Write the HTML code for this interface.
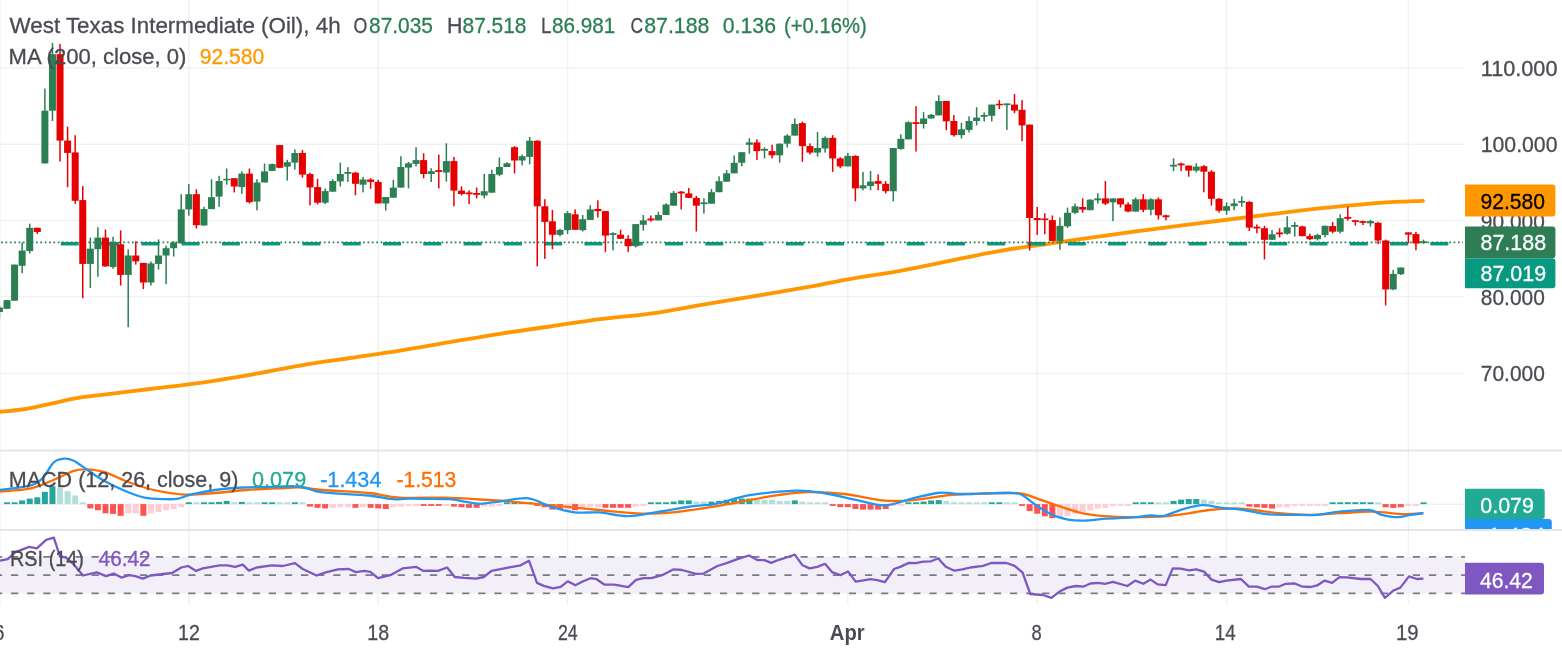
<!DOCTYPE html><html><head><meta charset="utf-8"><style>html,body{margin:0;padding:0;background:#fff;}body{width:1562px;height:652px;overflow:hidden;}svg{display:block;will-change:transform;}</style></head><body>
<svg width="1562" height="652" viewBox="0 0 1562 652" font-family='"Liberation Sans", sans-serif'>
<rect width="1562" height="652" fill="#fff"/>
<rect x="-0.77" y="0" width="1.4" height="605" fill="#eff2f1"/>
<rect x="188.1" y="0" width="1.4" height="605" fill="#eff2f1"/>
<rect x="377.48" y="0" width="1.4" height="605" fill="#eff2f1"/>
<rect x="566.85" y="0" width="1.4" height="605" fill="#eff2f1"/>
<rect x="847.12" y="0" width="1.4" height="605" fill="#eff2f1"/>
<rect x="1036.5" y="0" width="1.4" height="605" fill="#eff2f1"/>
<rect x="1225.88" y="0" width="1.4" height="605" fill="#eff2f1"/>
<rect x="1407.67" y="0" width="1.4" height="605" fill="#eff2f1"/>
<rect x="0" y="67.2" width="1465" height="1.4" fill="#eff2f1"/>
<rect x="0" y="143.6" width="1465" height="1.4" fill="#eff2f1"/>
<rect x="0" y="219.7" width="1465" height="1.4" fill="#eff2f1"/>
<rect x="0" y="295.9" width="1465" height="1.4" fill="#eff2f1"/>
<rect x="0" y="372.8" width="1465" height="1.4" fill="#eff2f1"/>
<rect x="0" y="449.66" width="1562" height="1.8" fill="#e2e3ea"/>
<rect x="0" y="529.0" width="1562" height="1.8" fill="#e2e3ea"/>
<rect x="0" y="556.8" width="1465" height="36.8" fill="#f2eff9"/>
<line x1="-5.113" y1="556.8" x2="1465" y2="556.8" stroke="#787b86" stroke-width="1.8" stroke-dasharray="7.2 8.913"/>
<line x1="-5.113" y1="575.1" x2="1465" y2="575.1" stroke="#787b86" stroke-width="1.8" stroke-dasharray="7.2 8.913"/>
<line x1="-5.113" y1="593.4" x2="1465" y2="593.4" stroke="#787b86" stroke-width="1.8" stroke-dasharray="7.2 8.913"/>
<path fill="none" stroke="#ff9800" stroke-width="3.8" stroke-linecap="round" d="M0.00,411.76 C4.27,411.30 17.07,410.36 25.60,409.00 C34.13,407.64 42.67,405.42 51.20,403.60 C59.73,401.78 68.67,399.50 76.80,398.10 C84.93,396.70 87.80,396.72 100.00,395.20 C112.20,393.68 133.33,391.06 150.00,389.00 C166.67,386.94 183.35,385.21 200.00,382.85 C216.65,380.49 233.23,377.73 249.90,374.85 C266.57,371.97 283.32,368.37 300.00,365.56 C316.68,362.75 333.33,360.49 350.00,358.00 C366.67,355.51 383.35,353.25 400.00,350.60 C416.65,347.95 433.23,344.91 449.90,342.10 C466.57,339.29 483.32,336.36 500.00,333.76 C516.68,331.16 533.33,328.93 550.00,326.50 C566.67,324.07 583.35,321.35 600.00,319.20 C616.65,317.05 633.23,315.93 649.90,313.60 C666.57,311.27 683.32,308.04 700.00,305.24 C716.68,302.44 733.33,299.61 750.00,296.80 C766.67,293.99 783.67,291.30 800.00,288.40 C816.33,285.50 831.33,282.34 848.00,279.40 C864.67,276.46 883.00,273.86 900.00,270.76 C917.00,267.66 933.33,264.13 950.00,260.80 C966.67,257.47 983.35,253.67 1000.00,250.80 C1016.65,247.93 1033.23,246.00 1049.90,243.60 C1066.57,241.20 1083.32,238.73 1100.00,236.40 C1116.68,234.07 1133.33,231.82 1150.00,229.60 C1166.67,227.38 1183.35,225.16 1200.00,223.05 C1216.65,220.95 1233.23,219.05 1249.90,216.97 C1266.57,214.89 1286.65,212.16 1300.00,210.56 C1313.35,208.97 1316.68,208.68 1330.00,207.40 C1343.32,206.12 1364.40,203.98 1379.90,202.90 C1395.40,201.82 1415.82,201.23 1423.00,200.90"/>
<line x1="60.8" y1="243.75" x2="1465" y2="243.75" stroke="#089981" stroke-width="3.3" stroke-dasharray="18 22.28"/>
<line x1="-3.25" y1="242.35" x2="1463" y2="242.35" stroke="#2b7f53" stroke-width="1.7" stroke-dasharray="1.7 2.6618"/>
<rect x="-1.32" y="305" width="1.5" height="13.6" fill="#2b7f53"/>
<rect x="-4.07" y="307.5" width="7" height="4.5" fill="#2b7f53"/>
<rect x="6.25" y="300.2" width="1.5" height="8.6" fill="#2b7f53"/>
<rect x="3.5" y="300.2" width="7" height="8.6" fill="#2b7f53"/>
<rect x="13.83" y="264.6" width="1.5" height="36.1" fill="#2b7f53"/>
<rect x="11.08" y="264.6" width="7" height="36.1" fill="#2b7f53"/>
<rect x="21.4" y="242.5" width="1.5" height="30.7" fill="#2b7f53"/>
<rect x="18.65" y="250.6" width="7" height="15.2" fill="#2b7f53"/>
<rect x="28.97" y="223.7" width="1.5" height="29.9" fill="#2b7f53"/>
<rect x="26.22" y="227.8" width="7" height="23.3" fill="#2b7f53"/>
<rect x="36.55" y="227.8" width="1.5" height="6.2" fill="#e60000"/>
<rect x="33.8" y="227.8" width="7" height="4.2" fill="#e60000"/>
<rect x="44.12" y="88.6" width="1.5" height="74.8" fill="#2b7f53"/>
<rect x="41.38" y="110.7" width="7" height="52.7" fill="#2b7f53"/>
<rect x="51.7" y="42.9" width="1.5" height="78.1" fill="#2b7f53"/>
<rect x="48.95" y="54.2" width="7" height="56.5" fill="#2b7f53"/>
<rect x="59.28" y="43.9" width="1.5" height="117.6" fill="#e60000"/>
<rect x="56.53" y="54.2" width="7" height="86.4" fill="#e60000"/>
<rect x="66.85" y="126.6" width="1.5" height="60.6" fill="#e60000"/>
<rect x="64.1" y="140.6" width="7" height="12.3" fill="#e60000"/>
<rect x="74.43" y="135.2" width="1.5" height="68.6" fill="#e60000"/>
<rect x="71.68" y="152.4" width="7" height="48.4" fill="#e60000"/>
<rect x="82" y="186.1" width="1.5" height="112.1" fill="#e60000"/>
<rect x="79.25" y="200.1" width="7" height="63.8" fill="#e60000"/>
<rect x="89.58" y="237.6" width="1.5" height="50.3" fill="#2b7f53"/>
<rect x="86.83" y="248.7" width="7" height="15.2" fill="#2b7f53"/>
<rect x="97.15" y="227.1" width="1.5" height="49.8" fill="#2b7f53"/>
<rect x="94.4" y="237.6" width="7" height="11.6" fill="#2b7f53"/>
<rect x="104.73" y="229.5" width="1.5" height="37.5" fill="#e60000"/>
<rect x="101.98" y="237.6" width="7" height="28.7" fill="#e60000"/>
<rect x="112.3" y="236.9" width="1.5" height="31.9" fill="#2b7f53"/>
<rect x="109.55" y="242.5" width="7" height="24.5" fill="#2b7f53"/>
<rect x="119.88" y="230.3" width="1.5" height="55.2" fill="#e60000"/>
<rect x="117.13" y="244.3" width="7" height="30.6" fill="#e60000"/>
<rect x="127.45" y="249.4" width="1.5" height="77.8" fill="#2b7f53"/>
<rect x="124.7" y="255.5" width="7" height="19.4" fill="#2b7f53"/>
<rect x="135.03" y="241.3" width="1.5" height="23.3" fill="#e60000"/>
<rect x="132.28" y="255.5" width="7" height="5.9" fill="#e60000"/>
<rect x="142.6" y="262.9" width="1.5" height="26.2" fill="#e60000"/>
<rect x="139.85" y="262.9" width="7" height="19.6" fill="#e60000"/>
<rect x="150.18" y="261.4" width="1.5" height="24.1" fill="#2b7f53"/>
<rect x="147.43" y="263.4" width="7" height="19.1" fill="#2b7f53"/>
<rect x="157.75" y="239.4" width="1.5" height="30.1" fill="#2b7f53"/>
<rect x="155" y="255.5" width="7" height="8.4" fill="#2b7f53"/>
<rect x="165.33" y="245.7" width="1.5" height="38.5" fill="#2b7f53"/>
<rect x="162.58" y="248.2" width="7" height="7.3" fill="#2b7f53"/>
<rect x="172.9" y="241.3" width="1.5" height="15.2" fill="#2b7f53"/>
<rect x="170.15" y="242.5" width="7" height="5.7" fill="#2b7f53"/>
<rect x="180.48" y="194.2" width="1.5" height="49.1" fill="#2b7f53"/>
<rect x="177.73" y="209.4" width="7" height="33.9" fill="#2b7f53"/>
<rect x="188.05" y="184" width="1.5" height="31.6" fill="#2b7f53"/>
<rect x="185.3" y="194.2" width="7" height="15.2" fill="#2b7f53"/>
<rect x="195.62" y="189.3" width="1.5" height="39.2" fill="#e60000"/>
<rect x="192.88" y="194.2" width="7" height="31" fill="#e60000"/>
<rect x="203.2" y="206.8" width="1.5" height="18.7" fill="#2b7f53"/>
<rect x="200.45" y="209.1" width="7" height="16.4" fill="#2b7f53"/>
<rect x="210.78" y="179.2" width="1.5" height="29.9" fill="#2b7f53"/>
<rect x="208.03" y="197.2" width="7" height="11.9" fill="#2b7f53"/>
<rect x="218.35" y="175.8" width="1.5" height="31" fill="#2b7f53"/>
<rect x="215.6" y="181" width="7" height="15.6" fill="#2b7f53"/>
<rect x="225.93" y="168.5" width="1.5" height="16.2" fill="#2b7f53"/>
<rect x="223.18" y="178.8" width="7" height="1.5" fill="#2b7f53"/>
<rect x="233.5" y="178.2" width="1.5" height="14.2" fill="#e60000"/>
<rect x="230.75" y="178.2" width="7" height="8.3" fill="#e60000"/>
<rect x="241.08" y="171.4" width="1.5" height="22.5" fill="#2b7f53"/>
<rect x="238.33" y="173.6" width="7" height="13.5" fill="#2b7f53"/>
<rect x="248.65" y="168.5" width="1.5" height="34.9" fill="#e60000"/>
<rect x="245.9" y="173.6" width="7" height="28.6" fill="#e60000"/>
<rect x="256.23" y="179.2" width="1.5" height="31.2" fill="#2b7f53"/>
<rect x="253.48" y="182.5" width="7" height="19.1" fill="#2b7f53"/>
<rect x="263.8" y="163.5" width="1.5" height="19" fill="#2b7f53"/>
<rect x="261.05" y="171.4" width="7" height="11.1" fill="#2b7f53"/>
<rect x="271.38" y="163.5" width="1.5" height="7.4" fill="#2b7f53"/>
<rect x="268.62" y="164.1" width="7" height="6.8" fill="#2b7f53"/>
<rect x="278.95" y="145.1" width="1.5" height="23" fill="#e60000"/>
<rect x="276.2" y="145.1" width="7" height="22.7" fill="#e60000"/>
<rect x="286.53" y="159.8" width="1.5" height="20.8" fill="#2b7f53"/>
<rect x="283.78" y="162.2" width="7" height="4.4" fill="#2b7f53"/>
<rect x="294.1" y="149.4" width="1.5" height="20.2" fill="#2b7f53"/>
<rect x="291.35" y="153" width="7" height="9.6" fill="#2b7f53"/>
<rect x="301.68" y="150.1" width="1.5" height="27.6" fill="#e60000"/>
<rect x="298.93" y="153" width="7" height="21.6" fill="#e60000"/>
<rect x="309.25" y="172.7" width="1.5" height="32.6" fill="#e60000"/>
<rect x="306.5" y="174" width="7" height="13.4" fill="#e60000"/>
<rect x="316.83" y="178.8" width="1.5" height="25.7" fill="#e60000"/>
<rect x="314.08" y="187.1" width="7" height="15.6" fill="#e60000"/>
<rect x="324.4" y="188.4" width="1.5" height="15.6" fill="#2b7f53"/>
<rect x="321.65" y="191.1" width="7" height="11.6" fill="#2b7f53"/>
<rect x="331.98" y="179.2" width="1.5" height="12.5" fill="#2b7f53"/>
<rect x="329.23" y="181" width="7" height="10.7" fill="#2b7f53"/>
<rect x="339.55" y="162.6" width="1.5" height="23.9" fill="#2b7f53"/>
<rect x="336.8" y="174" width="7" height="7.4" fill="#2b7f53"/>
<rect x="347.12" y="167.2" width="1.5" height="14.7" fill="#2b7f53"/>
<rect x="344.38" y="172" width="7" height="1.8" fill="#2b7f53"/>
<rect x="354.7" y="171.8" width="1.5" height="23.5" fill="#e60000"/>
<rect x="351.95" y="172.7" width="7" height="11.1" fill="#e60000"/>
<rect x="362.27" y="177" width="1.5" height="15.4" fill="#2b7f53"/>
<rect x="359.52" y="179.5" width="7" height="5.2" fill="#2b7f53"/>
<rect x="369.85" y="178.2" width="1.5" height="10.5" fill="#e60000"/>
<rect x="367.1" y="179.5" width="7" height="2.4" fill="#e60000"/>
<rect x="377.43" y="179.8" width="1.5" height="23.6" fill="#e60000"/>
<rect x="374.68" y="181.9" width="7" height="21.5" fill="#e60000"/>
<rect x="385" y="197" width="1.5" height="13.6" fill="#2b7f53"/>
<rect x="382.25" y="197" width="7" height="6.5" fill="#2b7f53"/>
<rect x="392.58" y="179.8" width="1.5" height="17.9" fill="#2b7f53"/>
<rect x="389.83" y="187.6" width="7" height="10.1" fill="#2b7f53"/>
<rect x="400.15" y="156.2" width="1.5" height="31.4" fill="#2b7f53"/>
<rect x="397.4" y="167" width="7" height="20.6" fill="#2b7f53"/>
<rect x="407.73" y="161.8" width="1.5" height="26.6" fill="#2b7f53"/>
<rect x="404.98" y="163.3" width="7" height="4.3" fill="#2b7f53"/>
<rect x="415.3" y="147.2" width="1.5" height="19.3" fill="#2b7f53"/>
<rect x="412.55" y="160.1" width="7" height="3.8" fill="#2b7f53"/>
<rect x="422.88" y="153.2" width="1.5" height="25.1" fill="#e60000"/>
<rect x="420.12" y="160.1" width="7" height="13.9" fill="#e60000"/>
<rect x="430.45" y="168.2" width="1.5" height="13.8" fill="#2b7f53"/>
<rect x="427.7" y="171.2" width="7" height="2.8" fill="#2b7f53"/>
<rect x="438.02" y="154.7" width="1.5" height="33.7" fill="#e60000"/>
<rect x="435.27" y="170.15" width="7" height="1.8" fill="#e60000"/>
<rect x="445.6" y="143.3" width="1.5" height="38.3" fill="#2b7f53"/>
<rect x="442.85" y="161.1" width="7" height="11.4" fill="#2b7f53"/>
<rect x="453.18" y="156.9" width="1.5" height="49.4" fill="#e60000"/>
<rect x="450.43" y="161.1" width="7" height="29.5" fill="#e60000"/>
<rect x="460.75" y="186.3" width="1.5" height="9.2" fill="#e60000"/>
<rect x="458" y="190.6" width="7" height="3.4" fill="#e60000"/>
<rect x="468.33" y="190.2" width="1.5" height="13.9" fill="#e60000"/>
<rect x="465.58" y="192.45" width="7" height="1.8" fill="#e60000"/>
<rect x="475.9" y="187.6" width="1.5" height="10.7" fill="#e60000"/>
<rect x="473.15" y="193" width="7" height="1.8" fill="#e60000"/>
<rect x="483.48" y="174" width="1.5" height="24.3" fill="#2b7f53"/>
<rect x="480.73" y="191.2" width="7" height="4.3" fill="#2b7f53"/>
<rect x="491.05" y="169.7" width="1.5" height="23" fill="#2b7f53"/>
<rect x="488.3" y="174" width="7" height="18.7" fill="#2b7f53"/>
<rect x="498.62" y="157.5" width="1.5" height="18.7" fill="#2b7f53"/>
<rect x="495.88" y="167" width="7" height="7.7" fill="#2b7f53"/>
<rect x="506.2" y="162.2" width="1.5" height="4.8" fill="#2b7f53"/>
<rect x="503.45" y="163.3" width="7" height="3.7" fill="#2b7f53"/>
<rect x="513.78" y="146.1" width="1.5" height="27.3" fill="#e60000"/>
<rect x="511.03" y="147.2" width="7" height="13.3" fill="#e60000"/>
<rect x="521.35" y="154.7" width="1.5" height="10.7" fill="#2b7f53"/>
<rect x="518.6" y="156.2" width="7" height="4.3" fill="#2b7f53"/>
<rect x="528.92" y="136.9" width="1.5" height="27.5" fill="#2b7f53"/>
<rect x="526.17" y="140.7" width="7" height="16.2" fill="#2b7f53"/>
<rect x="536.5" y="140.3" width="1.5" height="126.1" fill="#e60000"/>
<rect x="533.75" y="140.7" width="7" height="65.6" fill="#e60000"/>
<rect x="544.08" y="199.2" width="1.5" height="59.7" fill="#e60000"/>
<rect x="541.33" y="206.3" width="7" height="15.6" fill="#e60000"/>
<rect x="551.65" y="209.9" width="1.5" height="39.3" fill="#e60000"/>
<rect x="548.9" y="221.3" width="7" height="13.5" fill="#e60000"/>
<rect x="559.23" y="228.8" width="1.5" height="7.5" fill="#2b7f53"/>
<rect x="556.48" y="229.9" width="7" height="4.9" fill="#2b7f53"/>
<rect x="566.8" y="211.1" width="1.5" height="22.8" fill="#2b7f53"/>
<rect x="564.05" y="213.1" width="7" height="17.1" fill="#2b7f53"/>
<rect x="574.38" y="209.4" width="1.5" height="20.4" fill="#e60000"/>
<rect x="571.62" y="214.3" width="7" height="15.5" fill="#e60000"/>
<rect x="581.95" y="215" width="1.5" height="16.5" fill="#2b7f53"/>
<rect x="579.2" y="219.2" width="7" height="11" fill="#2b7f53"/>
<rect x="589.53" y="205.2" width="1.5" height="14.7" fill="#2b7f53"/>
<rect x="586.78" y="209.4" width="7" height="10.5" fill="#2b7f53"/>
<rect x="597.1" y="200.3" width="1.5" height="17.2" fill="#e60000"/>
<rect x="594.35" y="208.9" width="7" height="2.2" fill="#e60000"/>
<rect x="604.67" y="211.1" width="1.5" height="40.7" fill="#e60000"/>
<rect x="601.92" y="211.1" width="7" height="24.5" fill="#e60000"/>
<rect x="612.25" y="232.2" width="1.5" height="18.2" fill="#2b7f53"/>
<rect x="609.5" y="233.15" width="7" height="1.8" fill="#2b7f53"/>
<rect x="619.83" y="229.8" width="1.5" height="9" fill="#e60000"/>
<rect x="617.08" y="234.7" width="7" height="4.1" fill="#e60000"/>
<rect x="627.4" y="235.2" width="1.5" height="16.6" fill="#e60000"/>
<rect x="624.65" y="238.8" width="7" height="7.4" fill="#e60000"/>
<rect x="634.98" y="224.1" width="1.5" height="23.3" fill="#2b7f53"/>
<rect x="632.23" y="224.1" width="7" height="22.1" fill="#2b7f53"/>
<rect x="642.55" y="215" width="1.5" height="15.7" fill="#2b7f53"/>
<rect x="639.8" y="220.4" width="7" height="4.4" fill="#2b7f53"/>
<rect x="650.12" y="215.5" width="1.5" height="6.2" fill="#e60000"/>
<rect x="647.38" y="218.5" width="7" height="1.9" fill="#e60000"/>
<rect x="657.7" y="211.8" width="1.5" height="8.6" fill="#2b7f53"/>
<rect x="654.95" y="215" width="7" height="5.4" fill="#2b7f53"/>
<rect x="665.28" y="203.3" width="1.5" height="11.7" fill="#2b7f53"/>
<rect x="662.53" y="204.5" width="7" height="10.5" fill="#2b7f53"/>
<rect x="672.85" y="191" width="1.5" height="14.7" fill="#2b7f53"/>
<rect x="670.1" y="192.9" width="7" height="12.8" fill="#2b7f53"/>
<rect x="680.42" y="191" width="1.5" height="18.4" fill="#e60000"/>
<rect x="677.67" y="191.65" width="7" height="1.8" fill="#e60000"/>
<rect x="688" y="188" width="1.5" height="9.9" fill="#e60000"/>
<rect x="685.25" y="193.4" width="7" height="4.5" fill="#e60000"/>
<rect x="695.58" y="195.9" width="1.5" height="35.6" fill="#e60000"/>
<rect x="692.83" y="197.9" width="7" height="7.8" fill="#e60000"/>
<rect x="703.15" y="198.3" width="1.5" height="15.3" fill="#2b7f53"/>
<rect x="700.4" y="202.35" width="7" height="1.8" fill="#2b7f53"/>
<rect x="710.73" y="189" width="1.5" height="14.7" fill="#2b7f53"/>
<rect x="707.98" y="192.2" width="7" height="11.5" fill="#2b7f53"/>
<rect x="718.3" y="176.3" width="1.5" height="15.9" fill="#2b7f53"/>
<rect x="715.55" y="181.2" width="7" height="11" fill="#2b7f53"/>
<rect x="725.88" y="170.1" width="1.5" height="11.6" fill="#2b7f53"/>
<rect x="723.12" y="173.3" width="7" height="8.4" fill="#2b7f53"/>
<rect x="733.45" y="155.4" width="1.5" height="17.9" fill="#2b7f53"/>
<rect x="730.7" y="162.8" width="7" height="10.5" fill="#2b7f53"/>
<rect x="741.03" y="152.2" width="1.5" height="14.2" fill="#2b7f53"/>
<rect x="738.28" y="152.2" width="7" height="10.6" fill="#2b7f53"/>
<rect x="748.6" y="138.2" width="1.5" height="15.5" fill="#2b7f53"/>
<rect x="745.85" y="142.4" width="7" height="2.4" fill="#2b7f53"/>
<rect x="756.17" y="139.3" width="1.5" height="20.6" fill="#e60000"/>
<rect x="753.42" y="142.4" width="7" height="8.7" fill="#e60000"/>
<rect x="763.75" y="147.4" width="1.5" height="11" fill="#2b7f53"/>
<rect x="761" y="148.9" width="7" height="1.8" fill="#2b7f53"/>
<rect x="771.33" y="144.8" width="1.5" height="13.6" fill="#e60000"/>
<rect x="768.58" y="151.1" width="7" height="4.2" fill="#e60000"/>
<rect x="778.9" y="143.4" width="1.5" height="19.3" fill="#2b7f53"/>
<rect x="776.15" y="143.7" width="7" height="11.6" fill="#2b7f53"/>
<rect x="786.48" y="134.2" width="1.5" height="13.2" fill="#2b7f53"/>
<rect x="783.73" y="135.6" width="7" height="8.1" fill="#2b7f53"/>
<rect x="794.05" y="118.5" width="1.5" height="17.1" fill="#2b7f53"/>
<rect x="791.3" y="124" width="7" height="11.6" fill="#2b7f53"/>
<rect x="801.62" y="121.6" width="1.5" height="40.2" fill="#e60000"/>
<rect x="798.88" y="123.1" width="7" height="23" fill="#e60000"/>
<rect x="809.2" y="143.4" width="1.5" height="11" fill="#e60000"/>
<rect x="806.45" y="146.1" width="7" height="6.5" fill="#e60000"/>
<rect x="816.78" y="132" width="1.5" height="24.6" fill="#2b7f53"/>
<rect x="814.03" y="148" width="7" height="4.6" fill="#2b7f53"/>
<rect x="824.35" y="136.4" width="1.5" height="16.2" fill="#2b7f53"/>
<rect x="821.6" y="137.8" width="7" height="10.7" fill="#2b7f53"/>
<rect x="831.92" y="135.1" width="1.5" height="36.8" fill="#e60000"/>
<rect x="829.17" y="137.8" width="7" height="20.6" fill="#e60000"/>
<rect x="839.5" y="157.2" width="1.5" height="11" fill="#e60000"/>
<rect x="836.75" y="158.4" width="7" height="8" fill="#e60000"/>
<rect x="847.08" y="152.9" width="1.5" height="13.5" fill="#2b7f53"/>
<rect x="844.33" y="155.9" width="7" height="10.5" fill="#2b7f53"/>
<rect x="854.65" y="155.3" width="1.5" height="46" fill="#e60000"/>
<rect x="851.9" y="155.9" width="7" height="32.5" fill="#e60000"/>
<rect x="862.23" y="171.9" width="1.5" height="18.4" fill="#2b7f53"/>
<rect x="859.48" y="185.3" width="7" height="3.1" fill="#2b7f53"/>
<rect x="869.8" y="171" width="1.5" height="19.3" fill="#2b7f53"/>
<rect x="867.05" y="181.6" width="7" height="4.4" fill="#2b7f53"/>
<rect x="877.38" y="174.3" width="1.5" height="16" fill="#e60000"/>
<rect x="874.62" y="181.1" width="7" height="2.7" fill="#e60000"/>
<rect x="884.95" y="181.1" width="1.5" height="12.3" fill="#e60000"/>
<rect x="882.2" y="183.8" width="7" height="7.4" fill="#e60000"/>
<rect x="892.53" y="148" width="1.5" height="53.3" fill="#2b7f53"/>
<rect x="889.78" y="148" width="7" height="43.2" fill="#2b7f53"/>
<rect x="900.1" y="134.2" width="1.5" height="15.6" fill="#2b7f53"/>
<rect x="897.35" y="138.8" width="7" height="10.1" fill="#2b7f53"/>
<rect x="907.67" y="121.3" width="1.5" height="18" fill="#2b7f53"/>
<rect x="904.92" y="122.2" width="7" height="17.1" fill="#2b7f53"/>
<rect x="915.25" y="106.2" width="1.5" height="45.4" fill="#e60000"/>
<rect x="912.5" y="122.2" width="7" height="1.8" fill="#e60000"/>
<rect x="922.83" y="112.1" width="1.5" height="16.5" fill="#2b7f53"/>
<rect x="920.08" y="118.5" width="7" height="5.5" fill="#2b7f53"/>
<rect x="930.4" y="113.9" width="1.5" height="4.6" fill="#2b7f53"/>
<rect x="927.65" y="114.8" width="7" height="3.7" fill="#2b7f53"/>
<rect x="937.98" y="95.2" width="1.5" height="20.2" fill="#2b7f53"/>
<rect x="935.23" y="101" width="7" height="14.4" fill="#2b7f53"/>
<rect x="945.55" y="101" width="1.5" height="29.1" fill="#e60000"/>
<rect x="942.8" y="101" width="7" height="20.3" fill="#e60000"/>
<rect x="953.12" y="115" width="1.5" height="21.6" fill="#e60000"/>
<rect x="950.38" y="121" width="7" height="14.1" fill="#e60000"/>
<rect x="960.7" y="122.8" width="1.5" height="15.7" fill="#2b7f53"/>
<rect x="957.95" y="129.3" width="7" height="5.8" fill="#2b7f53"/>
<rect x="968.28" y="116.3" width="1.5" height="16.2" fill="#2b7f53"/>
<rect x="965.53" y="121" width="7" height="8.9" fill="#2b7f53"/>
<rect x="975.85" y="107.2" width="1.5" height="18.2" fill="#2b7f53"/>
<rect x="973.1" y="117.6" width="7" height="3.4" fill="#2b7f53"/>
<rect x="983.42" y="112.4" width="1.5" height="9.1" fill="#2b7f53"/>
<rect x="980.67" y="115" width="7" height="1.8" fill="#2b7f53"/>
<rect x="991" y="104.6" width="1.5" height="16.9" fill="#2b7f53"/>
<rect x="988.25" y="104.6" width="7" height="11.2" fill="#2b7f53"/>
<rect x="998.58" y="100.1" width="1.5" height="8.9" fill="#e60000"/>
<rect x="995.83" y="103.8" width="7" height="1.5" fill="#e60000"/>
<rect x="1006.15" y="103.8" width="1.5" height="26.1" fill="#2b7f53"/>
<rect x="1003.4" y="103.4" width="7" height="1.8" fill="#2b7f53"/>
<rect x="1013.73" y="94.1" width="1.5" height="19.1" fill="#e60000"/>
<rect x="1010.98" y="104.6" width="7" height="6" fill="#e60000"/>
<rect x="1021.3" y="100.1" width="1.5" height="41" fill="#e60000"/>
<rect x="1018.55" y="109.8" width="7" height="15.6" fill="#e60000"/>
<rect x="1028.88" y="124.6" width="1.5" height="126" fill="#e60000"/>
<rect x="1026.12" y="124.6" width="7" height="93.4" fill="#e60000"/>
<rect x="1036.45" y="207" width="1.5" height="27.9" fill="#e60000"/>
<rect x="1033.7" y="218" width="7" height="2.1" fill="#e60000"/>
<rect x="1044.03" y="213.3" width="1.5" height="20.9" fill="#e60000"/>
<rect x="1041.28" y="218.5" width="7" height="1.6" fill="#e60000"/>
<rect x="1051.6" y="215.4" width="1.5" height="25.5" fill="#e60000"/>
<rect x="1048.85" y="220.1" width="7" height="20.8" fill="#e60000"/>
<rect x="1059.17" y="217.5" width="1.5" height="32.3" fill="#2b7f53"/>
<rect x="1056.42" y="225.8" width="7" height="15.1" fill="#2b7f53"/>
<rect x="1066.75" y="207.6" width="1.5" height="20.3" fill="#2b7f53"/>
<rect x="1064" y="212.8" width="7" height="13.5" fill="#2b7f53"/>
<rect x="1074.33" y="203.6" width="1.5" height="10.5" fill="#2b7f53"/>
<rect x="1071.58" y="206.3" width="7" height="6.5" fill="#2b7f53"/>
<rect x="1081.9" y="198.4" width="1.5" height="14.4" fill="#e60000"/>
<rect x="1079.15" y="207" width="7" height="2.6" fill="#e60000"/>
<rect x="1089.48" y="199.2" width="1.5" height="11" fill="#2b7f53"/>
<rect x="1086.73" y="199.7" width="7" height="10.5" fill="#2b7f53"/>
<rect x="1097.05" y="193.2" width="1.5" height="10.4" fill="#2b7f53"/>
<rect x="1094.3" y="198.4" width="7" height="1.9" fill="#2b7f53"/>
<rect x="1104.62" y="181" width="1.5" height="24" fill="#e60000"/>
<rect x="1101.88" y="198.4" width="7" height="5.2" fill="#e60000"/>
<rect x="1112.2" y="198.4" width="1.5" height="22.7" fill="#2b7f53"/>
<rect x="1109.45" y="198.4" width="7" height="3.9" fill="#2b7f53"/>
<rect x="1119.78" y="198.4" width="1.5" height="9.2" fill="#e60000"/>
<rect x="1117.03" y="198.4" width="7" height="6" fill="#e60000"/>
<rect x="1127.35" y="202.3" width="1.5" height="10" fill="#e60000"/>
<rect x="1124.6" y="204.4" width="7" height="7.1" fill="#e60000"/>
<rect x="1134.92" y="197.5" width="1.5" height="14.1" fill="#2b7f53"/>
<rect x="1132.17" y="199.3" width="7" height="12.3" fill="#2b7f53"/>
<rect x="1142.5" y="194.2" width="1.5" height="18" fill="#e60000"/>
<rect x="1139.75" y="199.3" width="7" height="10.5" fill="#e60000"/>
<rect x="1150.08" y="198.2" width="1.5" height="17.1" fill="#2b7f53"/>
<rect x="1147.33" y="199.3" width="7" height="10.5" fill="#2b7f53"/>
<rect x="1157.65" y="197.5" width="1.5" height="22" fill="#e60000"/>
<rect x="1154.9" y="199.3" width="7" height="16" fill="#e60000"/>
<rect x="1165.23" y="214.8" width="1.5" height="5.5" fill="#e60000"/>
<rect x="1162.48" y="215.3" width="7" height="1.9" fill="#e60000"/>
<rect x="1172.8" y="158.3" width="1.5" height="12.9" fill="#2b7f53"/>
<rect x="1170.05" y="164.75" width="7" height="1.8" fill="#2b7f53"/>
<rect x="1180.38" y="162.5" width="1.5" height="8.7" fill="#e60000"/>
<rect x="1177.62" y="163.55" width="7" height="1.8" fill="#e60000"/>
<rect x="1187.95" y="165.6" width="1.5" height="11.1" fill="#e60000"/>
<rect x="1185.2" y="165.6" width="7" height="5" fill="#e60000"/>
<rect x="1195.53" y="163.2" width="1.5" height="9.2" fill="#2b7f53"/>
<rect x="1192.78" y="166.6" width="7" height="4" fill="#2b7f53"/>
<rect x="1203.1" y="165.1" width="1.5" height="27.2" fill="#e60000"/>
<rect x="1200.35" y="166.2" width="7" height="5.5" fill="#e60000"/>
<rect x="1210.67" y="170.2" width="1.5" height="35.4" fill="#e60000"/>
<rect x="1207.92" y="171.7" width="7" height="27.1" fill="#e60000"/>
<rect x="1218.25" y="198.2" width="1.5" height="14.4" fill="#e60000"/>
<rect x="1215.5" y="198.8" width="7" height="11.9" fill="#e60000"/>
<rect x="1225.83" y="202.4" width="1.5" height="12.4" fill="#2b7f53"/>
<rect x="1223.08" y="206.1" width="7" height="4.6" fill="#2b7f53"/>
<rect x="1233.4" y="198.8" width="1.5" height="11.5" fill="#2b7f53"/>
<rect x="1230.65" y="203.4" width="7" height="2.7" fill="#2b7f53"/>
<rect x="1240.97" y="196.4" width="1.5" height="10.3" fill="#2b7f53"/>
<rect x="1238.22" y="200.9" width="7" height="1.8" fill="#2b7f53"/>
<rect x="1248.55" y="201.2" width="1.5" height="29.8" fill="#e60000"/>
<rect x="1245.8" y="201.9" width="7" height="25.7" fill="#e60000"/>
<rect x="1256.12" y="224.5" width="1.5" height="8.7" fill="#e60000"/>
<rect x="1253.38" y="226.65" width="7" height="1.8" fill="#e60000"/>
<rect x="1263.7" y="225.8" width="1.5" height="33.7" fill="#e60000"/>
<rect x="1260.95" y="228.2" width="7" height="11.6" fill="#e60000"/>
<rect x="1271.28" y="230" width="1.5" height="9.8" fill="#2b7f53"/>
<rect x="1268.53" y="234.3" width="7" height="5.5" fill="#2b7f53"/>
<rect x="1278.85" y="228.2" width="1.5" height="9.2" fill="#e60000"/>
<rect x="1276.1" y="232.45" width="7" height="1.8" fill="#e60000"/>
<rect x="1286.42" y="216.2" width="1.5" height="18.4" fill="#2b7f53"/>
<rect x="1283.67" y="227.3" width="7" height="6.4" fill="#2b7f53"/>
<rect x="1294" y="222.1" width="1.5" height="14.4" fill="#2b7f53"/>
<rect x="1291.25" y="225" width="7" height="1.8" fill="#2b7f53"/>
<rect x="1301.58" y="225.8" width="1.5" height="10.7" fill="#e60000"/>
<rect x="1298.83" y="226.4" width="7" height="9.7" fill="#e60000"/>
<rect x="1309.15" y="233.7" width="1.5" height="6.5" fill="#e60000"/>
<rect x="1306.4" y="236.1" width="7" height="3.1" fill="#e60000"/>
<rect x="1316.72" y="233.7" width="1.5" height="6.8" fill="#2b7f53"/>
<rect x="1313.97" y="235" width="7" height="4.2" fill="#2b7f53"/>
<rect x="1324.3" y="225.6" width="1.5" height="11.8" fill="#2b7f53"/>
<rect x="1321.55" y="225.8" width="7" height="9.2" fill="#2b7f53"/>
<rect x="1331.88" y="221.9" width="1.5" height="11.5" fill="#e60000"/>
<rect x="1329.12" y="226.1" width="7" height="5.6" fill="#e60000"/>
<rect x="1339.45" y="214.3" width="1.5" height="19.1" fill="#2b7f53"/>
<rect x="1336.7" y="218.2" width="7" height="13.5" fill="#2b7f53"/>
<rect x="1347.03" y="206.7" width="1.5" height="13.9" fill="#e60000"/>
<rect x="1344.28" y="216.95" width="7" height="1.8" fill="#e60000"/>
<rect x="1354.6" y="219.9" width="1.5" height="5.7" fill="#e60000"/>
<rect x="1351.85" y="220.2" width="7" height="1.7" fill="#e60000"/>
<rect x="1362.17" y="220.6" width="1.5" height="4.4" fill="#e60000"/>
<rect x="1359.42" y="221.1" width="7" height="1.7" fill="#e60000"/>
<rect x="1369.75" y="219.9" width="1.5" height="6.7" fill="#2b7f53"/>
<rect x="1367" y="221.1" width="7" height="2.2" fill="#2b7f53"/>
<rect x="1377.33" y="221.9" width="1.5" height="22.3" fill="#e60000"/>
<rect x="1374.58" y="222.8" width="7" height="17.7" fill="#e60000"/>
<rect x="1384.9" y="239.6" width="1.5" height="65.8" fill="#e60000"/>
<rect x="1382.15" y="240.5" width="7" height="48.9" fill="#e60000"/>
<rect x="1392.47" y="270" width="1.5" height="20.2" fill="#2b7f53"/>
<rect x="1389.72" y="273.9" width="7" height="15.5" fill="#2b7f53"/>
<rect x="1400.05" y="267.5" width="1.5" height="7.5" fill="#2b7f53"/>
<rect x="1397.3" y="267.5" width="7" height="6.7" fill="#2b7f53"/>
<rect x="1407.62" y="232.4" width="1.5" height="11.1" fill="#e60000"/>
<rect x="1404.88" y="232.4" width="7" height="2.2" fill="#e60000"/>
<rect x="1415.2" y="232" width="1.5" height="18.3" fill="#e60000"/>
<rect x="1412.45" y="234.1" width="7" height="9.4" fill="#e60000"/>
<rect x="1422.78" y="239.6" width="1.5" height="4.2" fill="#2b7f53"/>
<rect x="1420.03" y="241.25" width="7" height="1.8" fill="#2b7f53"/>
<rect x="0" y="503.6" width="1465" height="1.2" fill="#eceef2"/>
<rect x="4" y="502.3" width="6" height="1.8" fill="#26a69a"/>
<rect x="11.58" y="502.3" width="6" height="1.8" fill="#26a69a"/>
<rect x="19.15" y="500.4" width="6" height="3.7" fill="#26a69a"/>
<rect x="26.72" y="498.6" width="6" height="5.5" fill="#26a69a"/>
<rect x="34.3" y="497.3" width="6" height="6.8" fill="#26a69a"/>
<rect x="41.88" y="491.8" width="6" height="12.3" fill="#26a69a"/>
<rect x="49.45" y="486.3" width="6" height="17.8" fill="#26a69a"/>
<rect x="57.03" y="488.1" width="6" height="16" fill="#b2dfdb"/>
<rect x="64.6" y="491.2" width="6" height="12.9" fill="#b2dfdb"/>
<rect x="72.18" y="495.5" width="6" height="8.6" fill="#b2dfdb"/>
<rect x="79.75" y="502.3" width="6" height="1.8" fill="#b2dfdb"/>
<rect x="87.33" y="504.1" width="6" height="4.3" fill="#ff5252"/>
<rect x="94.9" y="504.1" width="6" height="6.1" fill="#ff5252"/>
<rect x="102.48" y="504.1" width="6" height="9.2" fill="#ff5252"/>
<rect x="110.05" y="504.1" width="6" height="9.8" fill="#ff5252"/>
<rect x="117.63" y="504.1" width="6" height="11.7" fill="#ff5252"/>
<rect x="125.2" y="504.1" width="6" height="9.2" fill="#ffcdd2"/>
<rect x="132.78" y="504.1" width="6" height="9.2" fill="#ffcdd2"/>
<rect x="140.35" y="504.1" width="6" height="11.7" fill="#ff5252"/>
<rect x="147.93" y="504.1" width="6" height="9.2" fill="#ffcdd2"/>
<rect x="155.5" y="504.1" width="6" height="8" fill="#ffcdd2"/>
<rect x="163.08" y="504.1" width="6" height="6.1" fill="#ffcdd2"/>
<rect x="170.65" y="504.1" width="6" height="4.9" fill="#ffcdd2"/>
<rect x="178.23" y="504.1" width="6" height="3.1" fill="#ffcdd2"/>
<rect x="185.8" y="502.3" width="6" height="1.8" fill="#26a69a"/>
<rect x="193.38" y="502.3" width="6" height="1.8" fill="#b2dfdb"/>
<rect x="200.95" y="502.3" width="6" height="1.8" fill="#26a69a"/>
<rect x="208.53" y="502.3" width="6" height="1.8" fill="#26a69a"/>
<rect x="216.1" y="501.9" width="6" height="2.2" fill="#26a69a"/>
<rect x="223.68" y="501" width="6" height="3.1" fill="#26a69a"/>
<rect x="231.25" y="502.3" width="6" height="1.8" fill="#b2dfdb"/>
<rect x="238.83" y="501.9" width="6" height="2.2" fill="#26a69a"/>
<rect x="246.4" y="502.3" width="6" height="1.8" fill="#b2dfdb"/>
<rect x="253.98" y="502.3" width="6" height="1.8" fill="#b2dfdb"/>
<rect x="261.55" y="502.3" width="6" height="1.8" fill="#26a69a"/>
<rect x="269.12" y="502.3" width="6" height="1.8" fill="#26a69a"/>
<rect x="276.7" y="502.3" width="6" height="1.8" fill="#b2dfdb"/>
<rect x="284.28" y="502.3" width="6" height="1.8" fill="#b2dfdb"/>
<rect x="291.85" y="502.3" width="6" height="1.8" fill="#26a69a"/>
<rect x="299.43" y="502.3" width="6" height="1.8" fill="#b2dfdb"/>
<rect x="307" y="504.1" width="6" height="2.5" fill="#ff5252"/>
<rect x="314.58" y="504.1" width="6" height="3.7" fill="#ff5252"/>
<rect x="322.15" y="504.1" width="6" height="4.3" fill="#ff5252"/>
<rect x="329.73" y="504.1" width="6" height="3.7" fill="#ffcdd2"/>
<rect x="337.3" y="504.1" width="6" height="3.1" fill="#ffcdd2"/>
<rect x="344.88" y="504.1" width="6" height="3.1" fill="#ffcdd2"/>
<rect x="352.45" y="504.1" width="6" height="3.7" fill="#ff5252"/>
<rect x="360.02" y="504.1" width="6" height="3.1" fill="#ffcdd2"/>
<rect x="367.6" y="504.1" width="6" height="3.7" fill="#ff5252"/>
<rect x="375.18" y="504.1" width="6" height="4.3" fill="#ff5252"/>
<rect x="382.75" y="504.1" width="6" height="4.9" fill="#ff5252"/>
<rect x="390.33" y="504.1" width="6" height="3.1" fill="#ffcdd2"/>
<rect x="397.9" y="504.1" width="6" height="2.5" fill="#ffcdd2"/>
<rect x="405.48" y="504.1" width="6" height="1.8" fill="#ffcdd2"/>
<rect x="413.05" y="504.1" width="6" height="1.8" fill="#ffcdd2"/>
<rect x="420.62" y="504.1" width="6" height="1.8" fill="#ff5252"/>
<rect x="428.2" y="504.1" width="6" height="1.8" fill="#ff5252"/>
<rect x="435.77" y="504.1" width="6" height="1.8" fill="#ff5252"/>
<rect x="443.35" y="504.1" width="6" height="1.8" fill="#ffcdd2"/>
<rect x="450.93" y="504.1" width="6" height="2.5" fill="#ff5252"/>
<rect x="458.5" y="504.1" width="6" height="3.1" fill="#ff5252"/>
<rect x="466.08" y="504.1" width="6" height="3.7" fill="#ff5252"/>
<rect x="473.65" y="504.1" width="6" height="3.7" fill="#ff5252"/>
<rect x="481.23" y="504.1" width="6" height="2.5" fill="#ffcdd2"/>
<rect x="488.8" y="504.1" width="6" height="2.5" fill="#ffcdd2"/>
<rect x="496.38" y="504.1" width="6" height="1.8" fill="#ffcdd2"/>
<rect x="503.95" y="502.3" width="6" height="1.8" fill="#26a69a"/>
<rect x="511.53" y="502.3" width="6" height="1.8" fill="#26a69a"/>
<rect x="519.1" y="502.3" width="6" height="1.8" fill="#26a69a"/>
<rect x="526.67" y="502.3" width="6" height="1.8" fill="#26a69a"/>
<rect x="534.25" y="504.1" width="6" height="1.8" fill="#ff5252"/>
<rect x="541.83" y="504.1" width="6" height="3.1" fill="#ff5252"/>
<rect x="549.4" y="504.1" width="6" height="5.5" fill="#ff5252"/>
<rect x="556.98" y="504.1" width="6" height="4.9" fill="#ff5252"/>
<rect x="564.55" y="504.1" width="6" height="5.5" fill="#ffcdd2"/>
<rect x="572.12" y="504.1" width="6" height="6.1" fill="#ff5252"/>
<rect x="579.7" y="504.1" width="6" height="3.7" fill="#ffcdd2"/>
<rect x="587.28" y="504.1" width="6" height="3.1" fill="#ffcdd2"/>
<rect x="594.85" y="504.1" width="6" height="3.1" fill="#ffcdd2"/>
<rect x="602.42" y="504.1" width="6" height="3.7" fill="#ff5252"/>
<rect x="610" y="504.1" width="6" height="3.7" fill="#ff5252"/>
<rect x="617.58" y="504.1" width="6" height="3.7" fill="#ff5252"/>
<rect x="625.15" y="504.1" width="6" height="3.7" fill="#ff5252"/>
<rect x="632.73" y="504.1" width="6" height="2.5" fill="#ffcdd2"/>
<rect x="640.3" y="504.1" width="6" height="1.8" fill="#ffcdd2"/>
<rect x="647.88" y="502.3" width="6" height="1.8" fill="#26a69a"/>
<rect x="655.45" y="502.3" width="6" height="1.8" fill="#26a69a"/>
<rect x="663.03" y="502.3" width="6" height="1.8" fill="#26a69a"/>
<rect x="670.6" y="501.6" width="6" height="2.5" fill="#26a69a"/>
<rect x="678.17" y="500.4" width="6" height="3.7" fill="#26a69a"/>
<rect x="685.75" y="500.4" width="6" height="3.7" fill="#26a69a"/>
<rect x="693.33" y="501.6" width="6" height="2.5" fill="#b2dfdb"/>
<rect x="700.9" y="501.6" width="6" height="2.5" fill="#b2dfdb"/>
<rect x="708.48" y="501.6" width="6" height="2.5" fill="#26a69a"/>
<rect x="716.05" y="501" width="6" height="3.1" fill="#26a69a"/>
<rect x="723.62" y="499.8" width="6" height="4.3" fill="#26a69a"/>
<rect x="731.2" y="499.2" width="6" height="4.9" fill="#26a69a"/>
<rect x="738.78" y="498.6" width="6" height="5.5" fill="#26a69a"/>
<rect x="746.35" y="498.6" width="6" height="5.5" fill="#26a69a"/>
<rect x="753.92" y="499.8" width="6" height="4.3" fill="#b2dfdb"/>
<rect x="761.5" y="499.8" width="6" height="4.3" fill="#b2dfdb"/>
<rect x="769.08" y="499.8" width="6" height="4.3" fill="#b2dfdb"/>
<rect x="776.65" y="501" width="6" height="3.1" fill="#b2dfdb"/>
<rect x="784.23" y="501" width="6" height="3.1" fill="#b2dfdb"/>
<rect x="791.8" y="500.4" width="6" height="3.7" fill="#26a69a"/>
<rect x="799.38" y="501.6" width="6" height="2.5" fill="#b2dfdb"/>
<rect x="806.95" y="502.3" width="6" height="1.8" fill="#b2dfdb"/>
<rect x="814.53" y="502.3" width="6" height="1.8" fill="#b2dfdb"/>
<rect x="822.1" y="502.3" width="6" height="1.8" fill="#b2dfdb"/>
<rect x="829.67" y="504.1" width="6" height="1.8" fill="#ff5252"/>
<rect x="837.25" y="504.1" width="6" height="3.1" fill="#ff5252"/>
<rect x="844.83" y="504.1" width="6" height="3.1" fill="#ff5252"/>
<rect x="852.4" y="504.1" width="6" height="4.9" fill="#ff5252"/>
<rect x="859.98" y="504.1" width="6" height="5.5" fill="#ff5252"/>
<rect x="867.55" y="504.1" width="6" height="5.5" fill="#ff5252"/>
<rect x="875.12" y="504.1" width="6" height="5.5" fill="#ff5252"/>
<rect x="882.7" y="504.1" width="6" height="4.9" fill="#ff5252"/>
<rect x="890.28" y="504.1" width="6" height="1.8" fill="#ffcdd2"/>
<rect x="897.85" y="504.1" width="6" height="1.8" fill="#ffcdd2"/>
<rect x="905.42" y="502.3" width="6" height="1.8" fill="#26a69a"/>
<rect x="913" y="502.3" width="6" height="1.8" fill="#26a69a"/>
<rect x="920.58" y="501.6" width="6" height="2.5" fill="#26a69a"/>
<rect x="928.15" y="500.4" width="6" height="3.7" fill="#26a69a"/>
<rect x="935.73" y="500.1" width="6" height="4" fill="#26a69a"/>
<rect x="943.3" y="500.9" width="6" height="3.2" fill="#b2dfdb"/>
<rect x="950.88" y="502.2" width="6" height="1.9" fill="#b2dfdb"/>
<rect x="958.45" y="502.3" width="6" height="1.8" fill="#b2dfdb"/>
<rect x="966.03" y="502.3" width="6" height="1.8" fill="#b2dfdb"/>
<rect x="973.6" y="502.3" width="6" height="1.8" fill="#b2dfdb"/>
<rect x="981.17" y="502.3" width="6" height="1.8" fill="#b2dfdb"/>
<rect x="988.75" y="502.3" width="6" height="1.8" fill="#26a69a"/>
<rect x="996.33" y="502.3" width="6" height="1.8" fill="#26a69a"/>
<rect x="1003.9" y="502.3" width="6" height="1.8" fill="#b2dfdb"/>
<rect x="1011.48" y="502.3" width="6" height="1.8" fill="#b2dfdb"/>
<rect x="1019.05" y="504.1" width="6" height="1.8" fill="#ff5252"/>
<rect x="1026.62" y="504.1" width="6" height="7" fill="#ff5252"/>
<rect x="1034.2" y="504.1" width="6" height="9.6" fill="#ff5252"/>
<rect x="1041.78" y="504.1" width="6" height="12.2" fill="#ff5252"/>
<rect x="1049.35" y="504.1" width="6" height="14.1" fill="#ff5252"/>
<rect x="1056.92" y="504.1" width="6" height="13.4" fill="#ffcdd2"/>
<rect x="1064.5" y="504.1" width="6" height="12.2" fill="#ffcdd2"/>
<rect x="1072.08" y="504.1" width="6" height="9.6" fill="#ffcdd2"/>
<rect x="1079.65" y="504.1" width="6" height="7.7" fill="#ffcdd2"/>
<rect x="1087.23" y="504.1" width="6" height="6.4" fill="#ffcdd2"/>
<rect x="1094.8" y="504.1" width="6" height="4.5" fill="#ffcdd2"/>
<rect x="1102.38" y="504.1" width="6" height="3.8" fill="#ffcdd2"/>
<rect x="1109.95" y="504.1" width="6" height="1.9" fill="#ffcdd2"/>
<rect x="1117.53" y="504.1" width="6" height="1.8" fill="#ffcdd2"/>
<rect x="1125.1" y="504.1" width="6" height="1.8" fill="#ffcdd2"/>
<rect x="1132.67" y="502.3" width="6" height="1.8" fill="#26a69a"/>
<rect x="1140.25" y="502.3" width="6" height="1.8" fill="#26a69a"/>
<rect x="1147.83" y="502.3" width="6" height="1.8" fill="#26a69a"/>
<rect x="1155.4" y="502.3" width="6" height="1.8" fill="#b2dfdb"/>
<rect x="1162.98" y="502.3" width="6" height="1.8" fill="#b2dfdb"/>
<rect x="1170.55" y="500.9" width="6" height="3.2" fill="#26a69a"/>
<rect x="1178.12" y="499.6" width="6" height="4.5" fill="#26a69a"/>
<rect x="1185.7" y="499" width="6" height="5.1" fill="#26a69a"/>
<rect x="1193.28" y="499" width="6" height="5.1" fill="#26a69a"/>
<rect x="1200.85" y="499.6" width="6" height="4.5" fill="#b2dfdb"/>
<rect x="1208.42" y="500.9" width="6" height="3.2" fill="#b2dfdb"/>
<rect x="1216" y="502.3" width="6" height="1.8" fill="#b2dfdb"/>
<rect x="1223.58" y="502.3" width="6" height="1.8" fill="#b2dfdb"/>
<rect x="1231.15" y="502.3" width="6" height="1.8" fill="#b2dfdb"/>
<rect x="1238.72" y="502.3" width="6" height="1.8" fill="#b2dfdb"/>
<rect x="1246.3" y="504.1" width="6" height="2.6" fill="#ff5252"/>
<rect x="1253.88" y="504.1" width="6" height="3.2" fill="#ff5252"/>
<rect x="1261.45" y="504.1" width="6" height="3.8" fill="#ff5252"/>
<rect x="1269.03" y="504.1" width="6" height="4.5" fill="#ff5252"/>
<rect x="1276.6" y="504.1" width="6" height="3.2" fill="#ffcdd2"/>
<rect x="1284.17" y="504.1" width="6" height="3.2" fill="#ffcdd2"/>
<rect x="1291.75" y="504.1" width="6" height="1.9" fill="#ffcdd2"/>
<rect x="1299.33" y="504.1" width="6" height="1.9" fill="#ffcdd2"/>
<rect x="1306.9" y="504.1" width="6" height="1.9" fill="#ffcdd2"/>
<rect x="1314.47" y="504.1" width="6" height="1.8" fill="#ffcdd2"/>
<rect x="1322.05" y="504.1" width="6" height="1.8" fill="#ffcdd2"/>
<rect x="1329.62" y="502.3" width="6" height="1.8" fill="#26a69a"/>
<rect x="1337.2" y="502.3" width="6" height="1.8" fill="#26a69a"/>
<rect x="1344.78" y="502.2" width="6" height="1.9" fill="#26a69a"/>
<rect x="1352.35" y="502.2" width="6" height="1.9" fill="#26a69a"/>
<rect x="1359.92" y="502.2" width="6" height="1.9" fill="#26a69a"/>
<rect x="1367.5" y="502.3" width="6" height="1.8" fill="#26a69a"/>
<rect x="1375.08" y="502.3" width="6" height="1.8" fill="#b2dfdb"/>
<rect x="1382.65" y="504.1" width="6" height="3.2" fill="#ff5252"/>
<rect x="1390.22" y="504.1" width="6" height="3.8" fill="#ff5252"/>
<rect x="1397.8" y="504.1" width="6" height="3.2" fill="#ff5252"/>
<rect x="1405.38" y="504.1" width="6" height="1.8" fill="#ffcdd2"/>
<rect x="1412.95" y="504.1" width="6" height="1.8" fill="#ffcdd2"/>
<rect x="1420.53" y="502.3" width="6" height="1.8" fill="#26a69a"/>
<path fill="none" stroke="#ff6d00" stroke-width="2.3" d="M0.00,491.50 C5.12,490.98 21.48,490.45 30.70,488.40 C39.92,486.35 48.12,482.12 55.30,479.20 C62.48,476.28 68.68,472.53 73.80,470.90 C78.92,469.27 80.88,469.20 86.00,469.40 C91.12,469.60 97.33,469.95 104.50,472.10 C111.67,474.25 120.80,479.32 129.00,482.30 C137.20,485.28 144.47,487.95 153.70,490.00 C162.93,492.05 174.17,494.10 184.40,494.60 C194.63,495.10 204.85,493.77 215.10,493.00 C225.35,492.23 235.65,490.77 245.90,490.00 C256.15,489.23 267.38,488.82 276.60,488.40 C285.82,487.98 293.52,487.23 301.20,487.50 C308.88,487.77 311.43,489.08 322.70,490.00 C333.97,490.92 356.00,491.73 368.80,493.00 C381.60,494.27 386.70,496.83 399.50,497.60 C412.30,498.37 432.18,497.28 445.60,497.60 C459.02,497.92 470.82,498.98 480.00,499.50 C489.18,500.02 487.00,499.57 500.70,500.70 C514.40,501.83 545.80,504.75 562.20,506.30 C578.60,507.85 585.78,508.78 599.10,510.00 C612.42,511.22 629.82,513.20 642.10,513.60 C654.38,514.00 660.50,513.62 672.80,512.40 C685.10,511.18 703.60,508.25 715.90,506.30 C728.20,504.35 736.37,502.55 746.60,500.70 C756.83,498.85 767.07,496.63 777.30,495.20 C787.53,493.77 796.73,492.30 808.00,492.10 C819.27,491.90 832.08,492.57 844.90,494.00 C857.72,495.43 873.12,499.73 884.90,500.70 C896.68,501.67 904.88,500.72 915.60,499.80 C926.32,498.88 939.80,496.17 949.20,495.20 C958.60,494.23 962.87,494.37 972.00,494.00 C981.13,493.63 995.47,493.00 1004.00,493.00 C1012.53,493.00 1016.80,492.77 1023.20,494.00 C1029.60,495.23 1034.93,497.88 1042.40,500.40 C1049.87,502.92 1060.53,506.80 1068.00,509.10 C1075.47,511.40 1079.72,512.93 1087.20,514.20 C1094.68,515.47 1104.35,516.22 1112.90,516.70 C1121.45,517.18 1129.98,517.15 1138.50,517.10 C1147.02,517.05 1155.47,517.05 1164.00,516.40 C1172.53,515.75 1182.22,514.27 1189.70,513.20 C1197.18,512.13 1201.43,510.80 1208.90,510.00 C1216.37,509.20 1227.03,508.40 1234.50,508.40 C1241.97,508.40 1246.23,509.20 1253.70,510.00 C1261.17,510.80 1270.25,512.40 1279.30,513.20 C1288.35,514.00 1297.88,514.80 1308.00,514.80 C1318.12,514.80 1329.30,513.73 1340.00,513.20 C1350.70,512.67 1361.50,511.43 1372.20,511.60 C1382.90,511.77 1395.67,513.93 1404.20,514.20 C1412.73,514.47 1420.20,513.37 1423.40,513.20"/>
<path fill="none" stroke="#2196f3" stroke-width="2.3" d="M0.00,490.00 C5.12,489.22 23.53,487.35 30.70,485.30 C37.87,483.25 39.15,481.53 43.00,477.70 C46.85,473.87 50.22,465.48 53.80,462.30 C57.38,459.12 61.17,458.85 64.50,458.60 C67.83,458.35 70.72,459.42 73.80,460.80 C76.88,462.18 78.40,463.83 83.00,466.90 C87.60,469.97 94.75,475.35 101.40,479.20 C108.05,483.05 115.73,486.93 122.90,490.00 C130.07,493.07 137.22,496.07 144.40,497.60 C151.58,499.13 160.37,499.03 166.00,499.20 C171.63,499.37 174.12,499.37 178.20,498.60 C182.28,497.83 184.35,496.03 190.50,494.60 C196.65,493.17 206.38,491.18 215.10,490.00 C223.82,488.82 233.58,488.02 242.80,487.50 C252.02,486.98 261.70,487.10 270.40,486.90 C279.10,486.70 288.85,486.05 295.00,486.30 C301.15,486.55 302.68,487.38 307.30,488.40 C311.92,489.42 312.45,491.22 322.70,492.40 C332.95,493.58 357.02,494.37 368.80,495.50 C380.58,496.63 386.75,498.68 393.40,499.20 C400.05,499.72 399.48,498.60 408.70,498.60 C417.92,498.60 439.48,498.70 448.70,499.20 C457.92,499.70 458.78,500.83 464.00,501.60 C469.22,502.37 473.88,503.85 480.00,503.80 C486.12,503.75 492.63,502.22 500.70,501.30 C508.77,500.38 520.20,497.47 528.40,498.30 C536.60,499.13 542.22,503.95 549.90,506.30 C557.58,508.65 566.30,511.38 574.50,512.40 C582.70,513.42 590.13,511.78 599.10,512.40 C608.07,513.02 618.07,516.25 628.30,516.10 C638.53,515.95 650.00,513.13 660.50,511.50 C671.00,509.87 682.07,507.58 691.30,506.30 C700.53,505.02 706.17,505.65 715.90,503.80 C725.63,501.95 736.38,497.40 749.70,495.20 C763.02,493.00 783.52,490.97 795.80,490.60 C808.08,490.23 813.17,491.42 823.40,493.00 C833.63,494.58 846.95,498.05 857.20,500.10 C867.45,502.15 875.17,505.70 884.90,505.30 C894.63,504.90 906.90,499.75 915.60,497.70 C924.30,495.65 931.50,493.78 937.10,493.00 C942.70,492.22 945.38,492.83 949.20,493.00 C953.02,493.17 953.53,493.93 960.00,494.00 C966.47,494.07 980.67,493.57 988.00,493.40 C995.33,493.23 998.67,492.90 1004.00,493.00 C1009.33,493.10 1014.67,491.97 1020.00,494.00 C1025.33,496.03 1030.67,501.73 1036.00,505.20 C1041.33,508.67 1046.67,512.40 1052.00,514.80 C1057.33,517.20 1062.67,518.63 1068.00,519.60 C1073.33,520.57 1077.58,520.75 1084.00,520.60 C1090.42,520.45 1098.50,519.23 1106.50,518.70 C1114.50,518.17 1124.53,517.93 1132.00,517.40 C1139.47,516.87 1145.97,515.77 1151.30,515.50 C1156.63,515.23 1158.67,516.87 1164.00,515.80 C1169.33,514.73 1176.88,510.87 1183.30,509.10 C1189.72,507.33 1196.10,505.42 1202.50,505.20 C1208.90,504.98 1214.78,507.00 1221.70,507.80 C1228.62,508.60 1236.53,508.93 1244.00,510.00 C1251.47,511.07 1258.50,513.40 1266.50,514.20 C1274.50,515.00 1283.47,514.70 1292.00,514.80 C1300.53,514.90 1309.70,515.33 1317.70,514.80 C1325.70,514.27 1331.45,512.40 1340.00,511.60 C1348.55,510.80 1362.05,509.47 1369.00,510.00 C1375.95,510.53 1376.92,513.62 1381.70,514.80 C1386.48,515.98 1392.90,517.10 1397.70,517.10 C1402.50,517.10 1406.22,515.45 1410.50,514.80 C1414.78,514.15 1421.25,513.47 1423.40,513.20"/>
<polyline fill="none" stroke="#7e57c2" stroke-width="2.3" stroke-linejoin="round" points="0,560.7 7.7,559.2 15.4,552.1 29.2,546.9 36.9,548.4 46.1,539.8 53.8,537.7 59.9,556.1 66.1,557.7 73.8,564.4 83,575.5 96.8,572.4 106,576.1 113.7,573.6 121.4,577.6 129.1,575.2 135.2,576.1 142.9,578.6 150.6,575.5 172.1,573 181.3,567.5 188.1,566 196.1,570.9 202.8,568.4 219.7,565.3 227.4,565.3 235.1,566.9 242.8,564.7 248.9,570.6 256.6,567.5 272,565.3 282.7,566 295,563.2 302.7,569 316.5,575.5 325.7,572.4 338,569.3 348.8,569 355.9,572.1 364.2,570.9 370.3,571.8 378,578.2 390.3,575.2 402.6,568.4 416.4,566.9 423.5,570.9 430.2,570.6 437.9,570.9 447.1,567.5 454.8,577 464,577.9 476,578.6 476.1,578.6 483.8,577 491.5,570.9 506.9,567.8 520.7,565.3 529,560.7 537,582.9 543.8,585.9 553,588.4 560.7,586.9 567.7,581.3 575.4,585.3 583.1,581.3 590.5,578.2 596.6,579.2 604.6,584.7 614.4,584.7 628.3,587.2 636,579.8 643.6,578.2 651.3,578.2 662.1,575.2 673.7,569.3 682,570 695.9,573.9 703.6,573.6 717.4,566 726.6,563.2 737.4,559.2 749,555.5 757.3,560.1 764.4,560.1 771.2,562.9 778.9,559.8 788.1,557 794.8,554.6 802.5,565.3 809.6,568.4 817.3,566.9 825,563.8 832,572.1 840.3,575.2 848,571.5 855.7,581.6 871,579.2 877.2,580.1 884.9,582.2 894.1,569 900.2,566.9 908.8,562.9 915.6,563.2 923.3,561.7 930.9,561.3 938.7,558.3 940,560.4 945.8,566.8 954.4,570.7 962.4,569.4 970.4,567.5 983.2,565.9 991.2,563 1006.6,563 1014.6,565.9 1022.6,572.6 1030.3,594 1043.1,595 1051.4,597.9 1059.1,591.8 1067.4,587.6 1076,586 1083.1,586.7 1090.4,583.5 1098.5,582.8 1104.9,583.8 1112.9,581.9 1127.3,586 1135.3,580.6 1143.3,583.8 1150.6,579.6 1157.7,584.4 1165.7,585.1 1172.7,568.4 1180.7,568.7 1189,570.3 1196.1,569.4 1204.1,571.6 1211.5,579.6 1219.1,582.2 1226.5,580.6 1240.9,579 1248.9,586.7 1256.9,586.7 1264.9,589.2 1271.3,586.7 1278.7,586.7 1285.7,583.8 1294.7,583.5 1302.7,586.7 1310.7,587 1317.1,585.4 1324.8,580.6 1332.1,582.8 1339.5,577.1 1346.5,577.4 1361,579 1370.5,579 1377.9,586 1384.9,597.9 1393,590.8 1400.3,587.6 1409,576.4 1417,579 1423.4,578.7"/>
<text x="9.6" y="33" fill="#4b4b53" stroke="#4b4b53" stroke-width="0.3" font-size="22" textLength="331" lengthAdjust="spacingAndGlyphs">West Texas Intermediate (Oil), 4h</text>
<text x="353.6" y="33" fill="#4b4b53" stroke="#4b4b53" stroke-width="0.3" font-size="22" textLength="13.8" lengthAdjust="spacingAndGlyphs">O</text>
<text x="369" y="33" fill="#2b7f53" stroke="#2b7f53" stroke-width="0.3" font-size="22" textLength="64" lengthAdjust="spacingAndGlyphs">87.035</text>
<text x="446.9" y="33" fill="#4b4b53" stroke="#4b4b53" stroke-width="0.3" font-size="22" textLength="15.4" lengthAdjust="spacingAndGlyphs">H</text>
<text x="462.5" y="33" fill="#2b7f53" stroke="#2b7f53" stroke-width="0.3" font-size="22" textLength="64" lengthAdjust="spacingAndGlyphs">87.518</text>
<text x="540.9" y="33" fill="#4b4b53" stroke="#4b4b53" stroke-width="0.3" font-size="22" textLength="10.4" lengthAdjust="spacingAndGlyphs">L</text>
<text x="552" y="33" fill="#2b7f53" stroke="#2b7f53" stroke-width="0.3" font-size="22" textLength="63.2" lengthAdjust="spacingAndGlyphs">86.981</text>
<text x="630.6" y="33" fill="#4b4b53" stroke="#4b4b53" stroke-width="0.3" font-size="22" textLength="12.6" lengthAdjust="spacingAndGlyphs">C</text>
<text x="644.2" y="33" fill="#2b7f53" stroke="#2b7f53" stroke-width="0.3" font-size="22" textLength="65.2" lengthAdjust="spacingAndGlyphs">87.188</text>
<text x="722.8" y="33" fill="#2b7f53" stroke="#2b7f53" stroke-width="0.3" font-size="22" textLength="53.2" lengthAdjust="spacingAndGlyphs">0.136</text>
<text x="784" y="33" fill="#2b7f53" stroke="#2b7f53" stroke-width="0.3" font-size="22" textLength="82.8" lengthAdjust="spacingAndGlyphs">(+0.16%)</text>
<text x="8.6" y="64.1" fill="#4b4b53" stroke="#4b4b53" stroke-width="0.3" font-size="22" textLength="177.8" lengthAdjust="spacingAndGlyphs">MA (200, close, 0)</text>
<text x="199.7" y="64.1" fill="#ff9800" stroke="#ff9800" stroke-width="0.3" font-size="22" textLength="64.6" lengthAdjust="spacingAndGlyphs">92.580</text>
<text x="8.8" y="487" fill="#4b4b53" stroke="#4b4b53" stroke-width="0.3" font-size="22" textLength="229.6" lengthAdjust="spacingAndGlyphs">MACD (12, 26, close, 9)</text>
<text x="252" y="487" fill="#22ab94" stroke="#22ab94" stroke-width="0.3" font-size="22" textLength="54.2" lengthAdjust="spacingAndGlyphs">0.079</text>
<text x="320.2" y="487" fill="#2196f3" stroke="#2196f3" stroke-width="0.3" font-size="22" textLength="61.2" lengthAdjust="spacingAndGlyphs">-1.434</text>
<text x="396.4" y="487" fill="#ff6d00" stroke="#ff6d00" stroke-width="0.3" font-size="22" textLength="60" lengthAdjust="spacingAndGlyphs">-1.513</text>
<text x="10" y="566.4" fill="#4b4b53" stroke="#4b4b53" stroke-width="0.3" font-size="22" textLength="74" lengthAdjust="spacingAndGlyphs">RSI (14)</text>
<text x="98.6" y="566.4" fill="#7e57c2" stroke="#7e57c2" stroke-width="0.3" font-size="22" textLength="52" lengthAdjust="spacingAndGlyphs">46.42</text>
<text x="1480.7" y="75.8" fill="#4b4b53" stroke="#4b4b53" stroke-width="0.3" font-size="22" textLength="76.8" lengthAdjust="spacingAndGlyphs">110.000</text>
<text x="1480.7" y="152.2" fill="#4b4b53" stroke="#4b4b53" stroke-width="0.3" font-size="22" textLength="76.8" lengthAdjust="spacingAndGlyphs">100.000</text>
<text x="1480.85" y="228.6" fill="#4b4b53" stroke="#4b4b53" stroke-width="0.3" font-size="22" textLength="64" lengthAdjust="spacingAndGlyphs">90.000</text>
<text x="1480.85" y="304.9" fill="#4b4b53" stroke="#4b4b53" stroke-width="0.3" font-size="22" textLength="64" lengthAdjust="spacingAndGlyphs">80.000</text>
<text x="1480.85" y="381.1" fill="#4b4b53" stroke="#4b4b53" stroke-width="0.3" font-size="22" textLength="64" lengthAdjust="spacingAndGlyphs">70.000</text>
<text x="-6" y="640" fill="#4b4b53" stroke="#4b4b53" stroke-width="0.3" font-size="22" textLength="10.4" lengthAdjust="spacingAndGlyphs">6</text>
<text x="178.1" y="640" fill="#4b4b53" stroke="#4b4b53" stroke-width="0.3" font-size="22" textLength="21.8" lengthAdjust="spacingAndGlyphs">12</text>
<text x="367.3" y="640" fill="#4b4b53" stroke="#4b4b53" stroke-width="0.3" font-size="22" textLength="21.8" lengthAdjust="spacingAndGlyphs">18</text>
<text x="557.9" y="640" fill="#4b4b53" stroke="#4b4b53" stroke-width="0.3" font-size="22" textLength="19.8" lengthAdjust="spacingAndGlyphs">24</text>
<text x="829.8" y="639.5" fill="#4b4b53" stroke="#4b4b53" stroke-width="0.0" font-size="22" textLength="34.8" lengthAdjust="spacingAndGlyphs" font-weight="bold">Apr</text>
<text x="1031.6" y="640" fill="#4b4b53" stroke="#4b4b53" stroke-width="0.3" font-size="22" textLength="10.2" lengthAdjust="spacingAndGlyphs">8</text>
<text x="1214.8" y="640" fill="#4b4b53" stroke="#4b4b53" stroke-width="0.3" font-size="22" textLength="20.8" lengthAdjust="spacingAndGlyphs">14</text>
<text x="1395.9" y="640" fill="#4b4b53" stroke="#4b4b53" stroke-width="0.3" font-size="22" textLength="22.6" lengthAdjust="spacingAndGlyphs">19</text>
<path d="M1465,184.6 H1552.4 Q1555.4,184.6 1555.4,187.6 V213.4 Q1555.4,216.4 1552.4,216.4 H1465 Z" fill="#ff9800"/>
<text x="1480.5" y="209.4" fill="#000000" stroke="#000000" stroke-width="0.3" font-size="22" textLength="64.6" lengthAdjust="spacingAndGlyphs">92.580</text>
<path d="M1465,226.6 H1552.4 Q1555.4,226.6 1555.4,229.6 V255.3 Q1555.4,258.3 1552.4,258.3 H1465 Z" fill="#2e7d55"/>
<text x="1480.5" y="250" fill="#ffffff" stroke="#ffffff" stroke-width="0.3" font-size="22" textLength="65.6" lengthAdjust="spacingAndGlyphs">87.188</text>
<path d="M1465,258.3 H1552.4 Q1555.4,258.3 1555.4,261.3 V285.3 Q1555.4,288.3 1552.4,288.3 H1465 Z" fill="#089981"/>
<text x="1480.5" y="280.5" fill="#ffffff" stroke="#ffffff" stroke-width="0.3" font-size="22" textLength="65.6" lengthAdjust="spacingAndGlyphs">87.019</text>
<svg x="0" y="0" width="1562" height="529">
<path d="M1465,519.1 H1548.8 Q1551.8,519.1 1551.8,522.1 V547 Q1551.8,550 1548.8,550 H1465 Z" fill="#2196f3"/>
<text x="1480.5" y="543.2" fill="#ffffff" stroke="#ffffff" stroke-width="0.3" font-size="22" textLength="64.6" lengthAdjust="spacingAndGlyphs">-1.434</text>
</svg>
<path d="M1465,488.7 H1541.7 Q1544.7,488.7 1544.7,491.7 V516.1 Q1544.7,519.1 1541.7,519.1 H1465 Z" fill="#22ab94"/>
<text x="1480.3" y="513.4" fill="#ffffff" stroke="#ffffff" stroke-width="0.3" font-size="22" textLength="53.6" lengthAdjust="spacingAndGlyphs">0.079</text>
<path d="M1465,562.8 H1541 Q1544,562.8 1544,565.8 V591.4 Q1544,594.4 1541,594.4 H1465 Z" fill="#7e57c2"/>
<text x="1480" y="587.5" fill="#ffffff" stroke="#ffffff" stroke-width="0.3" font-size="22" textLength="52.8" lengthAdjust="spacingAndGlyphs">46.42</text>
</svg></body></html>
